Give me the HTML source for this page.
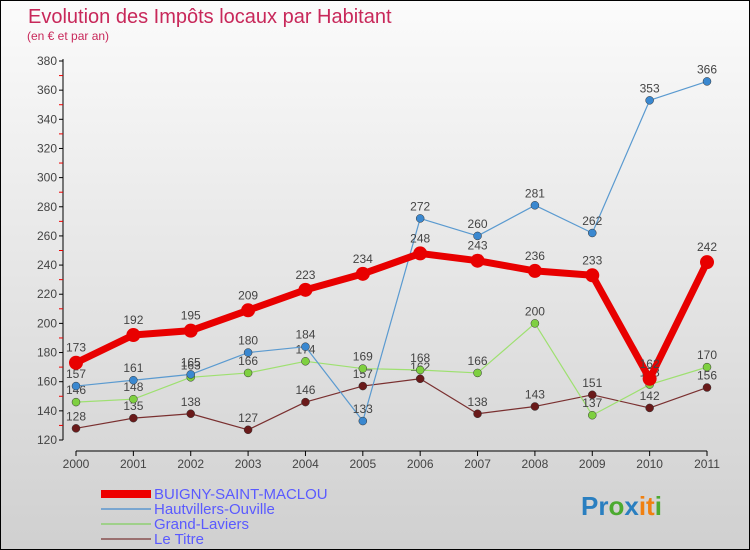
<!DOCTYPE html>
<html><head><meta charset="utf-8"><style>
body{margin:0}
#c{position:relative;width:748px;height:548px;border:1px solid #000;background:linear-gradient(#fbfbfb,#d0d0d0);overflow:hidden;font-family:"Liberation Sans",sans-serif}
</style></head><body>
<div id="c">
<svg id="s" width="748" height="548">
<text x="27" y="22" font-size="20" fill="#c8285a">Evolution des Impôts locaux par Habitant</text>
<text x="26" y="39" font-size="12" fill="#c8285a">(en € et par an)</text>
<g id="axes"></g><g id="series"></g>
<g>
<rect x="100" y="489" width="50" height="8" fill="#e00"/>
<text x="153" y="498" font-size="15" fill="#5a5aff">BUIGNY-SAINT-MACLOU</text>
<rect x="100" y="507" width="50" height="2" fill="#7aa6d0"/>
<text x="153" y="513" font-size="15" fill="#5a5aff">Hautvillers-Ouville</text>
<rect x="100" y="522" width="50" height="2" fill="#9fd08a"/>
<text x="153" y="528" font-size="15" fill="#5a5aff">Grand-Laviers</text>
<rect x="100" y="537" width="50" height="2" fill="#9a7070"/>
<text x="153" y="543" font-size="15" fill="#5a5aff">Le Titre</text>
</g>
<text x="580" y="514" font-size="26" font-weight="bold"><tspan fill="#2a7fc0">Pr</tspan><tspan fill="#4caa30">o</tspan><tspan fill="#2a7fc0">x</tspan><tspan fill="#f08010">it</tspan><tspan fill="#4caa30">i</tspan></text>
</svg></div>
<script>
const years=[2000,2001,2002,2003,2004,2005,2006,2007,2008,2009,2010,2011];
const yTicks=[120,140,160,180,200,220,240,260,280,300,320,340,360,380];
const buigny=[173,192,195,209,223,234,248,243,236,233,162,242];
const hautvillers=[157,161,165,180,184,133,272,260,281,262,353,366];
const grandLaviers=[146,148,163,166,174,169,168,166,200,137,158,170];
const leTitre=[128,135,138,127,146,157,162,138,143,151,142,156];
const NS='http://www.w3.org/2000/svg';
const X=i=>75+i*(706-75)/(years.length-1);
const Y=v=>439-(v-120)*(439-60)/260;
function el(t,a,p){const e=document.createElementNS(NS,t);for(const k in a)e.setAttribute(k,a[k]);p.appendChild(e);return e;}
const ax=document.getElementById('axes');
const yl=el('line',{x1:62,y1:58,x2:62,y2:439,stroke:'#000'},ax);


const xl=el('line',{x1:75,y1:450,x2:706,y2:450,stroke:'#000'},ax);


yTicks.forEach((v,i)=>{
 el('line',{x1:58,y1:Y(v),x2:62,y2:Y(v),stroke:'#000'},ax);
 if(i<yTicks.length-1)el('line',{x1:58,y1:Y(v+10),x2:62,y2:Y(v+10),stroke:'#e00'},ax);
 const t=el('text',{x:56,y:Y(v)+4,'font-size':12,fill:'#444','text-anchor':'end'},ax);t.textContent=v;
 
 
});
years.forEach((y,i)=>{
 el('line',{x1:X(i),y1:450,x2:X(i),y2:455,stroke:'#000'},ax);
 const t=el('text',{x:X(i),y:467,'font-size':12,fill:'#444','text-anchor':'middle'},ax);t.textContent=y;
 
 
});
const sg=document.getElementById('series');
function series(data,name,color,dot,w,r){
 const g=el('g',{},sg);
 
 
 const p=el('polyline',{points:data.map((v,i)=>X(i)+','+Y(v)).join(' '),fill:'none',stroke:color,'stroke-width':w,'stroke-linejoin':'round'},g);
 
 
 data.forEach((v,i)=>{
  const c=el('circle',{cx:X(i),cy:Y(v),r:r,fill:dot,stroke:'#333','stroke-width':r>5?0:0.5},g);
  
  
  const t=el('text',{x:X(i),y:Y(v)-(r>5?11:8),'font-size':12,fill:'#444','text-anchor':'middle'},g);t.textContent=v;
  
  
 });
}
series(leTitre,'le-titre','#7a3030','#6a1a1a',1.2,4);
series(grandLaviers,'grand-laviers','#9ee070','#7ed040',1.2,4);
series(hautvillers,'hautvillers','#5a9ad0','#3a88d0',1.2,4);
series(buigny,'buigny','#e80000','#e80000',7,7);
</script>
</body></html>
